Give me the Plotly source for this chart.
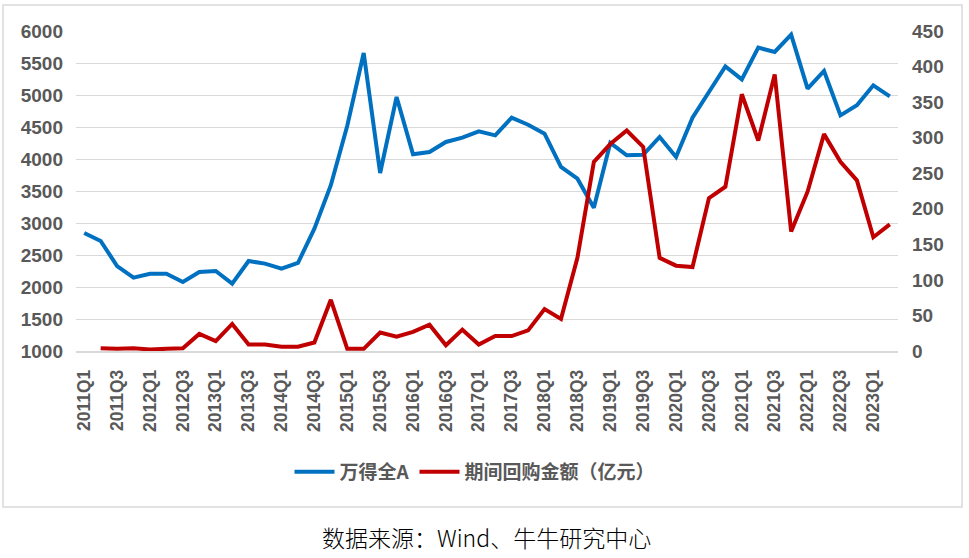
import plotly.graph_objects as go

quarters = [
    "2011Q1","2011Q2","2011Q3","2011Q4","2012Q1","2012Q2","2012Q3","2012Q4",
    "2013Q1","2013Q2","2013Q3","2013Q4","2014Q1","2014Q2","2014Q3","2014Q4",
    "2015Q1","2015Q2","2015Q3","2015Q4","2016Q1","2016Q2","2016Q3","2016Q4",
    "2017Q1","2017Q2","2017Q3","2017Q4","2018Q1","2018Q2","2018Q3","2018Q4",
    "2019Q1","2019Q2","2019Q3","2019Q4","2020Q1","2020Q2","2020Q3","2020Q4",
    "2021Q1","2021Q2","2021Q3","2021Q4","2022Q1","2022Q2","2022Q3","2022Q4",
    "2023Q1","2023Q2",
]

wind_all_a = [
    2844, 2719, 2328, 2146, 2208, 2208, 2078, 2234, 2250, 2052,
    2406, 2365, 2286, 2375, 2911, 3590, 4520, 5656, 3781, 4969,
    4073, 4109, 4266, 4333, 4432, 4370, 4646, 4536, 4396, 3875,
    3693, 3240, 4250, 4057, 4065, 4344, 4031, 4646, 5047, 5448,
    5245, 5740, 5672, 5943, 5099, 5375, 4682, 4839, 5151, 4979,
]

buyback = [
    None, 4, 3, 4, 2, 3, 4, 24, 14, 38,
    9, 9, 6, 6, 12, 72, 3, 3, 26, 20,
    27, 37, 8, 30, 9, 21, 21, 29, 59, 45,
    131, 266, 291, 310, 287, 131, 120, 118, 215, 231,
    361, 296, 389, 168, 224, 305, 266, 240, 160, 178,
]

tick_labels = quarters[::2]

name_a = "万得全A"
name_b = "期间回购金额（亿元）"
source_text = "数据来源：Wind、牛牛研究中心"

grey = "#595959"
font_fam = "Liberation Sans, Arial, Noto Sans CJK SC, sans-serif"
cjk_fam = "Noto Sans CJK SC, Liberation Sans, sans-serif"

fig = go.Figure()
fig.add_trace(go.Scatter(
    x=quarters, y=wind_all_a, name=name_a, mode="lines",
    line=dict(color="#0070C0", width=4), yaxis="y",
))
fig.add_trace(go.Scatter(
    x=quarters, y=buyback, name=name_b, mode="lines",
    line=dict(color="#C00000", width=4), yaxis="y2",
))

W, H = 969, 558
L, R, T, B = 76, 71, 31, 207
pw = W - L - R
ph = H - T - B

def px(xp):
    return (xp - L) / pw

def py(yp):
    return (H - B - yp) / ph

fig.update_layout(
    width=W, height=H,
    margin=dict(l=L, r=R, t=T, b=B, pad=0),
    paper_bgcolor="white", plot_bgcolor="white",
    showlegend=True,
    legend=dict(
        orientation="h", x=px(475), xanchor="center", y=py(472), yanchor="middle",
        font=dict(family=cjk_fam, size=19, color=grey, weight="bold"),
        itemwidth=40, tracegroupgap=0, bgcolor="rgba(0,0,0,0)",
    ),
    xaxis=dict(
        type="category", categoryorder="array", categoryarray=quarters,
        tickmode="array", tickvals=tick_labels, ticktext=tick_labels,
        tickangle=-90, showgrid=False, zeroline=False,
        showline=True, linecolor="#d9d9d9", linewidth=1.5,
        ticks="", ticklabelstandoff=10,
        tickfont=dict(family=font_fam, size=17.5, color=grey, weight="bold"),
        range=[-0.5, len(quarters) - 0.5],
    ),
    yaxis=dict(
        range=[1000, 6000], dtick=500, tick0=1000, showgrid=True,
        gridcolor="#d9d9d9", gridwidth=1.2, zeroline=False, showline=False,
        tickfont=dict(family=font_fam, size=19, color=grey, weight="bold"),
        ticklabelstandoff=12,
    ),
    yaxis2=dict(
        range=[0, 450], dtick=50, tick0=0, overlaying="y", side="right",
        showgrid=False, zeroline=False, showline=False,
        tickfont=dict(family=font_fam, size=19, color=grey, weight="bold"),
        ticklabelstandoff=13,
    ),
    shapes=[dict(
        type="rect", xref="paper", yref="paper",
        x0=px(3), x1=px(962), y0=py(507), y1=py(5),
        line=dict(color="#d9d9d9", width=1.5), fillcolor="rgba(0,0,0,0)", layer="below",
    )],
    annotations=[dict(
        text=source_text, xref="paper", yref="paper",
        x=px(486), y=py(537), xanchor="center", yanchor="middle", showarrow=False,
        font=dict(family=cjk_fam, size=23, color="#000000", weight=300),
    )],
)

fig.write_html("out.html")
